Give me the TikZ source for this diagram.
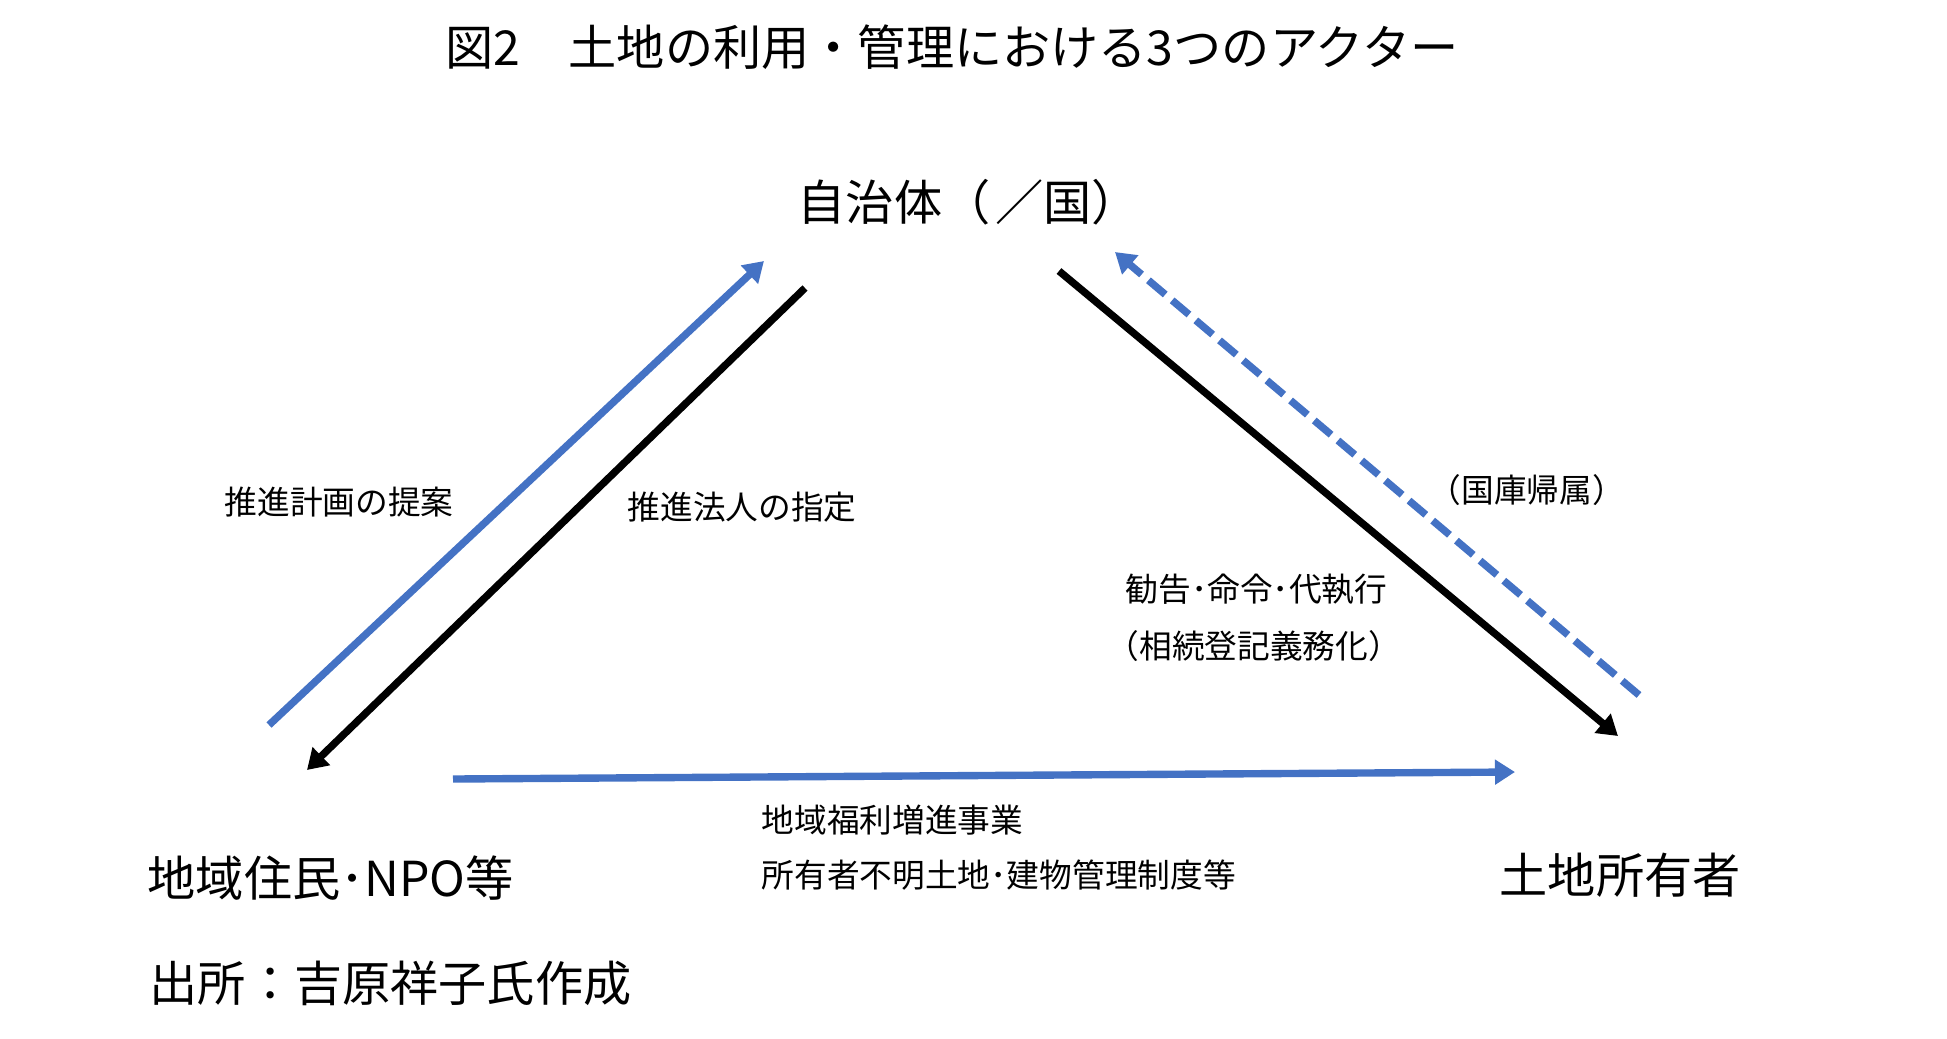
\documentclass[tikz,border=0pt]{standalone}
\usepackage{fontspec}
\setmainfont{Noto Sans CJK JP}
\usetikzlibrary{arrows.meta}
\definecolor{actorblue}{HTML}{4472C4}

\begin{document}
\begin{tikzpicture}[x=0.01cm,y=-0.01cm,
  actor/.style={anchor=west,inner sep=0pt,font=\fontsize{13.7pt}{16pt}\selectfont},
  relation/.style={anchor=west,inner sep=0pt,font=\fontsize{9.3pt}{11pt}\selectfont},
  flow/.style={line width=2.1pt,-{Triangle[length=0.2cm,width=0.24cm]}}]
\useasboundingbox (0,0) rectangle (1947,1038);

\node[actor] (title) at (445,47) {図2　土地の利用・管理における3つのアクター};
\node[actor] (jichitai) at (797,202) {自治体（\kern-0.12em\ ／国）};
\node[actor] (jumin) at (147,878) {地域住民･NPO等};
\node[actor] (shoyusha) at (1499,875) {土地所有者};
\node[actor] (source) at (149,983) {出所：吉原祥子氏作成};

\node[relation] (teian) at (224,502) {推進計画の提案};
\node[relation] (shitei) at (627,507) {推進法人の指定};
\node[relation] (kankoku) at (1125,589) {勧告･命令･代執行};
\node[relation] (gimuka) at (1106,646) {（相続登記義務化）};
\node[relation] (kokko) at (1428,490) {（国庫帰属）};
\node[relation] (fukuri) at (761,820) {地域福利増進事業};
\node[relation] (kanri) at (761,875) {所有者不明土地･建物管理制度等};

% arrow ends
\coordinate (up1) at (269,725);
\coordinate (up2) at (764,261);
\coordinate (down1) at (805,288);
\coordinate (down2) at (307,770);
\coordinate (right1) at (1059,271);
\coordinate (right2) at (1618,736);
\coordinate (back1) at (1639,695);
\coordinate (back2) at (1115,252);
\coordinate (base1) at (453,779);
\coordinate (base2) at (1515,772);

\draw[flow,actorblue] (up1) -- (up2);
\draw[flow,black] (down1) -- (down2);
\draw[flow,black] (right1) -- (right2);
\draw[flow,actorblue,dash pattern=on 0.22cm off 0.09cm] (back1) -- (back2);
\draw[flow,actorblue] (base1) -- (base2);

\end{tikzpicture}
\end{document}
